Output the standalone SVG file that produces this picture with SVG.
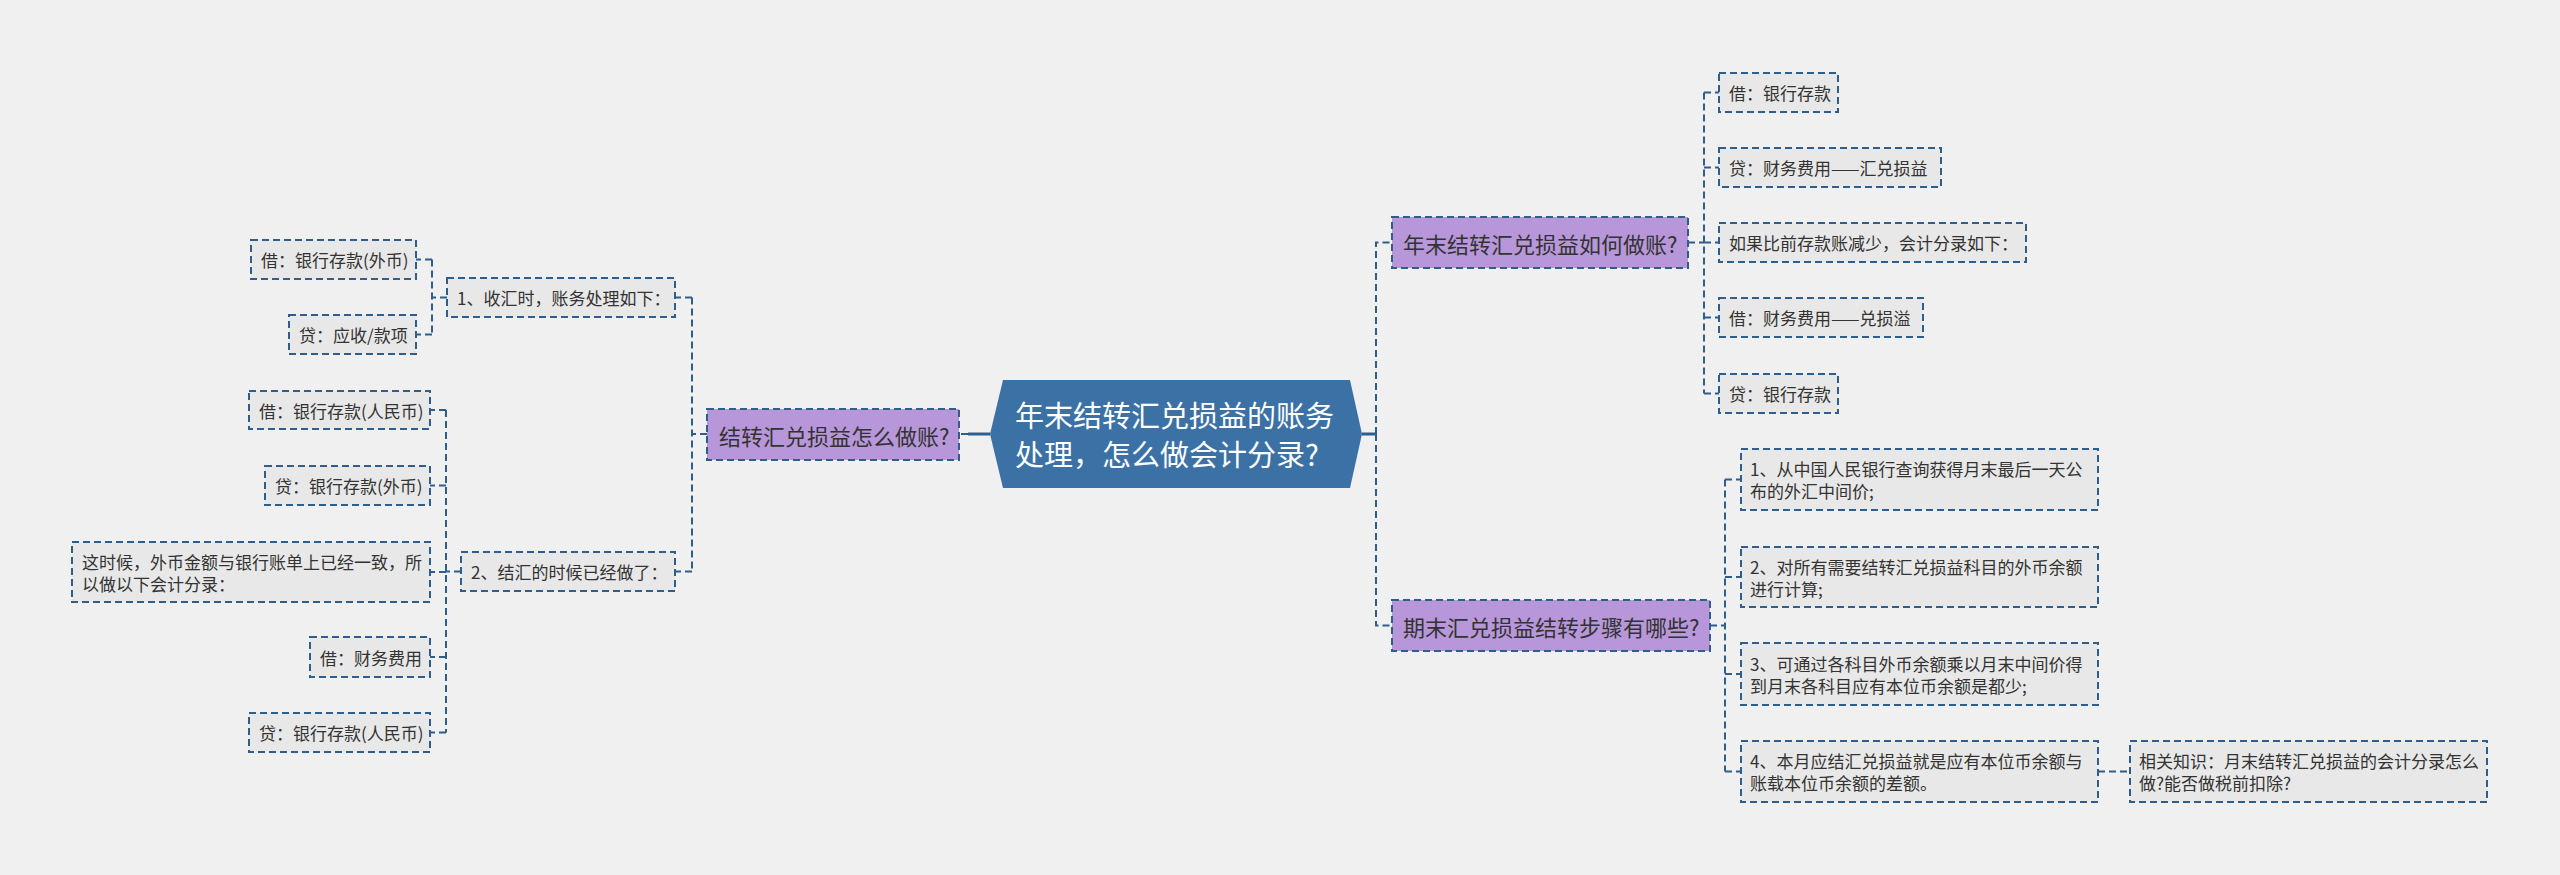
<svg xmlns="http://www.w3.org/2000/svg" width="2560" height="875" viewBox="0 0 2560 875">
<style>
.bg{fill:#f0f0f0}
.leaf{fill:#e8e8e8;stroke:#2e5f8c;stroke-width:2;stroke-dasharray:7 4}
.sub{fill:#b797da;stroke:#2e5f8c;stroke-width:2;stroke-dasharray:7 4}
.root{fill:#3b71a5}
.c{fill:none;stroke:#2e5f8c;stroke-width:2;stroke-dasharray:7 4}
.s{fill:none;stroke:#2e5f8c;stroke-width:3}
text{font-family:"Noto Sans CJK SC","Noto Sans",sans-serif;dominant-baseline:central;fill:#333}
.t17{font-size:17px}
.t22{font-size:22px}
.t29{font-size:29px;fill:#ffffff}
</style>
<rect class="bg" x="0" y="0" width="2560" height="875"/>
<g id="connectors">
<path class="s" d="M990 434 H968"/>
<path class="c" d="M968 434 H959"/>
<path class="s" d="M1362 434 H1376"/>
<path class="c" d="M1376 434 V242.5 H1392 M1376 434 V625.5 H1392"/>
<path class="c" d="M1688 242.5 H1704 M1704 92.5 V393.5 M1704 92.5 H1719 M1704 167.5 H1719 M1704 242.5 H1719 M1704 317.5 H1719 M1704 393.5 H1719"/>
<path class="c" d="M1710 625.5 H1725 M1725 479.5 V771.5 M1725 479.5 H1741 M1725 577 H1741 M1725 674 H1741 M1725 771.5 H1741"/>
<path class="c" d="M2098 771.5 H2130"/>
<path class="c" d="M707 434 H692 M692 297.5 V571.5 M692 297.5 H675 M692 571.5 H675"/>
<path class="c" d="M447 297.5 H432 M432 259.5 V334.5 M432 259.5 H416 M432 334.5 H416"/>
<path class="c" d="M461 571.5 H446 M446 410 V732.5 M446 410 H430 M446 485.5 H430 M446 572 H430 M446 657 H430 M446 732.5 H430"/>
</g>
<g id="root">
<polygon class="root" points="990,434 1003,380 1350,380 1362,434 1350,488 1003,488"/>
<text class="t29" x="1015" y="414">年末结转汇兑损益的账务</text>
<text class="t29" x="1015" y="453">处理，怎么做会计分录?</text>
</g>
<g id="n-left">
<rect class="sub" x="707" y="409" width="252" height="51"/>
<text class="t22" x="719" y="434.5">结转汇兑损益怎么做账?</text>
</g>
<g id="n-l1">
<rect class="leaf" x="447" y="278" width="228" height="39"/>
<text class="t17" x="457" y="297.5">1、收汇时，账务处理如下：</text>
</g>
<g id="n-l1a">
<rect class="leaf" x="251" y="240" width="165" height="39"/>
<text class="t17" x="261" y="259.5">借：银行存款(外币)</text>
</g>
<g id="n-l1b">
<rect class="leaf" x="289" y="315" width="127" height="39"/>
<text class="t17" x="299" y="334.5">贷：应收/款项</text>
</g>
<g id="n-l2">
<rect class="leaf" x="461" y="552" width="214" height="39"/>
<text class="t17" x="471" y="571.5">2、结汇的时候已经做了：</text>
</g>
<g id="n-l2a">
<rect class="leaf" x="249" y="391" width="181" height="38"/>
<text class="t17" x="259" y="410">借：银行存款(人民币)</text>
</g>
<g id="n-l2b">
<rect class="leaf" x="265" y="466" width="165" height="39"/>
<text class="t17" x="275" y="485.5">贷：银行存款(外币)</text>
</g>
<g id="n-l2c">
<rect class="leaf" x="72" y="542" width="358" height="60"/>
<text class="t17" x="82" y="561">这时候，外币金额与银行账单上已经一致，所</text>
<text class="t17" x="82" y="583">以做以下会计分录：</text>
</g>
<g id="n-l2d">
<rect class="leaf" x="310" y="637" width="120" height="40"/>
<text class="t17" x="320" y="657">借：财务费用</text>
</g>
<g id="n-l2e">
<rect class="leaf" x="249" y="713" width="181" height="39"/>
<text class="t17" x="259" y="732.5">贷：银行存款(人民币)</text>
</g>
<g id="n-r1">
<rect class="sub" x="1392" y="217" width="296" height="51"/>
<text class="t22" x="1403" y="242.5">年末结转汇兑损益如何做账?</text>
</g>
<g id="n-r1a">
<rect class="leaf" x="1719" y="73" width="119" height="39"/>
<text class="t17" x="1729" y="92.5">借：银行存款</text>
</g>
<g id="n-r1b">
<rect class="leaf" x="1719" y="148" width="222" height="39"/>
<text class="t17" x="1729" y="167.5">贷：财务费用——汇兑损益</text>
</g>
<g id="n-r1c">
<rect class="leaf" x="1719" y="223" width="307" height="39"/>
<text class="t17" x="1729" y="242.5">如果比前存款账减少，会计分录如下：</text>
</g>
<g id="n-r1d">
<rect class="leaf" x="1719" y="298" width="204" height="39"/>
<text class="t17" x="1729" y="317.5">借：财务费用——兑损溢</text>
</g>
<g id="n-r1e">
<rect class="leaf" x="1719" y="374" width="119" height="39"/>
<text class="t17" x="1729" y="393.5">贷：银行存款</text>
</g>
<g id="n-r2">
<rect class="sub" x="1392" y="600" width="318" height="51"/>
<text class="t22" x="1403" y="625.5">期末汇兑损益结转步骤有哪些?</text>
</g>
<g id="n-r2a">
<rect class="leaf" x="1741" y="449" width="357" height="61"/>
<text class="t17" x="1750" y="468.5">1、从中国人民银行查询获得月末最后一天公</text>
<text class="t17" x="1750" y="490.5">布的外汇中间价;</text>
</g>
<g id="n-r2b">
<rect class="leaf" x="1741" y="547" width="357" height="60"/>
<text class="t17" x="1750" y="566">2、对所有需要结转汇兑损益科目的外币余额</text>
<text class="t17" x="1750" y="588">进行计算;</text>
</g>
<g id="n-r2c">
<rect class="leaf" x="1741" y="643" width="357" height="62"/>
<text class="t17" x="1750" y="663">3、可通过各科目外币余额乘以月末中间价得</text>
<text class="t17" x="1750" y="685">到月末各科目应有本位币余额是都少;</text>
</g>
<g id="n-r2d">
<rect class="leaf" x="1741" y="741" width="357" height="61"/>
<text class="t17" x="1750" y="760.5">4、本月应结汇兑损益就是应有本位币余额与</text>
<text class="t17" x="1750" y="782.5">账载本位币余额的差额。</text>
</g>
<g id="n-r2e">
<rect class="leaf" x="2130" y="741" width="357" height="61"/>
<text class="t17" x="2139" y="760.5">相关知识：月末结转汇兑损益的会计分录怎么</text>
<text class="t17" x="2139" y="782.5">做?能否做税前扣除?</text>
</g>
</svg>
